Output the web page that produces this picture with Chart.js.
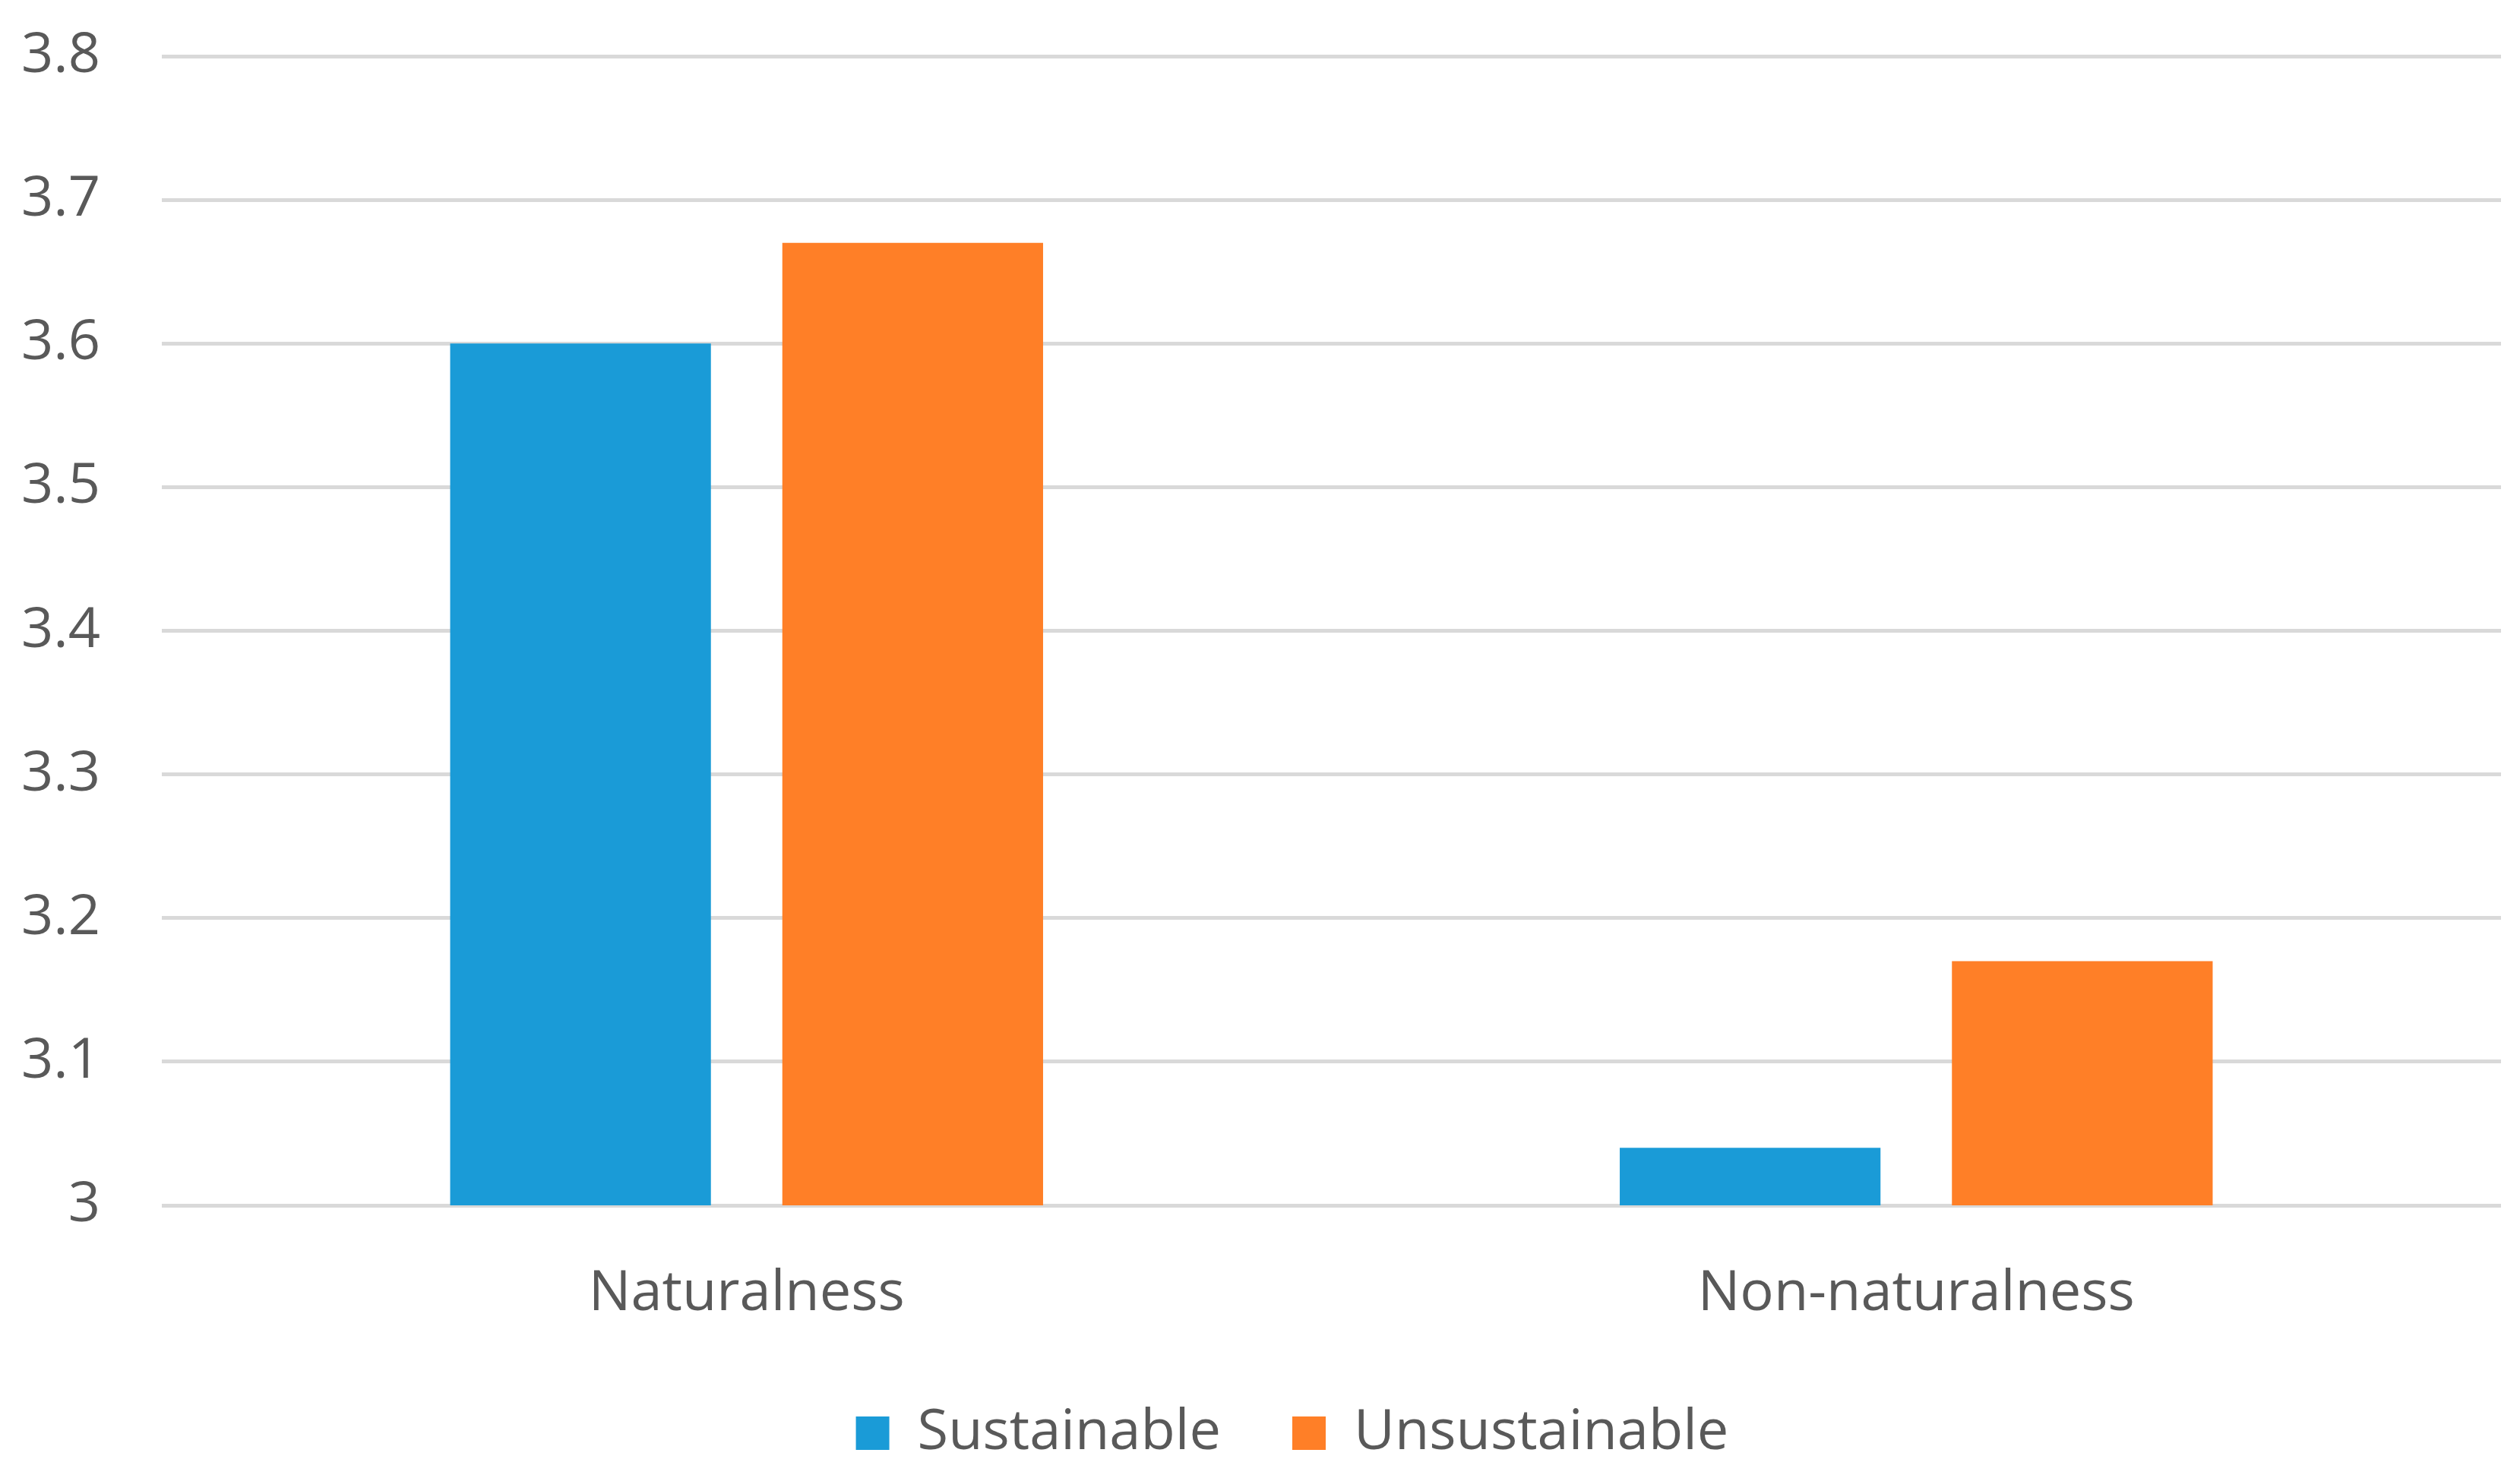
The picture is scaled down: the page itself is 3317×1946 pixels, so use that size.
<!DOCTYPE html>
<html>
<head>
<meta charset="utf-8">
<script src="https://cdn.jsdelivr.net/npm/chart.js@4.4.1/dist/chart.umd.min.js"></script>
<style>
  html, body { margin: 0; padding: 0; background: #ffffff; }
  #wrap { width: 3317px; height: 1946px; position: relative; }
</style>
</head>
<body>
<div id="wrap"><canvas id="c"></canvas></div>
<script>
const categories = ['Naturalness', 'Non-naturalness'];
const seriesNames = ['Sustainable', 'Unsustainable'];
const sustainableValues = [3.60, 3.04];
const unsustainableValues = [3.67, 3.17];
const yTickLabels = ['3', '3.1', '3.2', '3.3', '3.4', '3.5', '3.6', '3.7', '3.8'];

const FONT = "'Open Sans', 'Noto Sans', sans-serif";
const TEXT = '#595959';

// Shift the legend's band so it is centred like the original (Excel) legend.
const legendInset = {
  id: 'legendInset',
  afterLayout(chart, args, opts) {
    if (chart.legend) { chart.legend.left += opts.left || 0; }
  }
};

new Chart(document.getElementById('c'), {
  type: 'bar',
  data: {
    labels: categories,
    datasets: [
      { label: seriesNames[0], data: sustainableValues, backgroundColor: '#1A9BD7', borderWidth: 0,
        categoryPercentage: 0.568, barPercentage: 0.785 },
      { label: seriesNames[1], data: unsustainableValues, backgroundColor: '#FF7F27', borderWidth: 0,
        categoryPercentage: 0.568, barPercentage: 0.785 }
    ]
  },
  plugins: [legendInset],
  options: {
    responsive: true,
    maintainAspectRatio: false,
    animation: false,
    devicePixelRatio: 1,
    layout: { padding: { top: 74, left: 0, right: 25, bottom: 12 } },
    plugins: {
      tooltip: { enabled: false },
      legendInset: { left: 110 },
      legend: {
        position: 'bottom',
        labels: {
          boxWidth: 44, boxHeight: 44, padding: 94,
          color: TEXT,
          font: { family: FONT, size: 74 }
        }
      }
    },
    scales: {
      x: {
        grid: { display: false, drawTicks: false },
        border: { display: false },
        ticks: { color: TEXT, padding: 80, maxRotation: 0, font: { family: FONT, size: 74, lineHeight: 1 } },
        afterFit: (s) => { s.height = 169; }
      },
      y: {
        min: 3, max: 3.8,
        grid: { color: '#d9d9d9', lineWidth: 5, drawTicks: true, tickLength: 81, tickColor: 'rgba(0,0,0,0)' },
        border: { display: false },
        ticks: {
          stepSize: 0.1, color: TEXT, padding: 0,
          font: { family: FONT, size: 74 },
          callback: (v, i) => yTickLabels[i]
        },
        afterFit: (s) => { s.width = 213; }
      }
    }
  }
});
</script>
</body>
</html>
